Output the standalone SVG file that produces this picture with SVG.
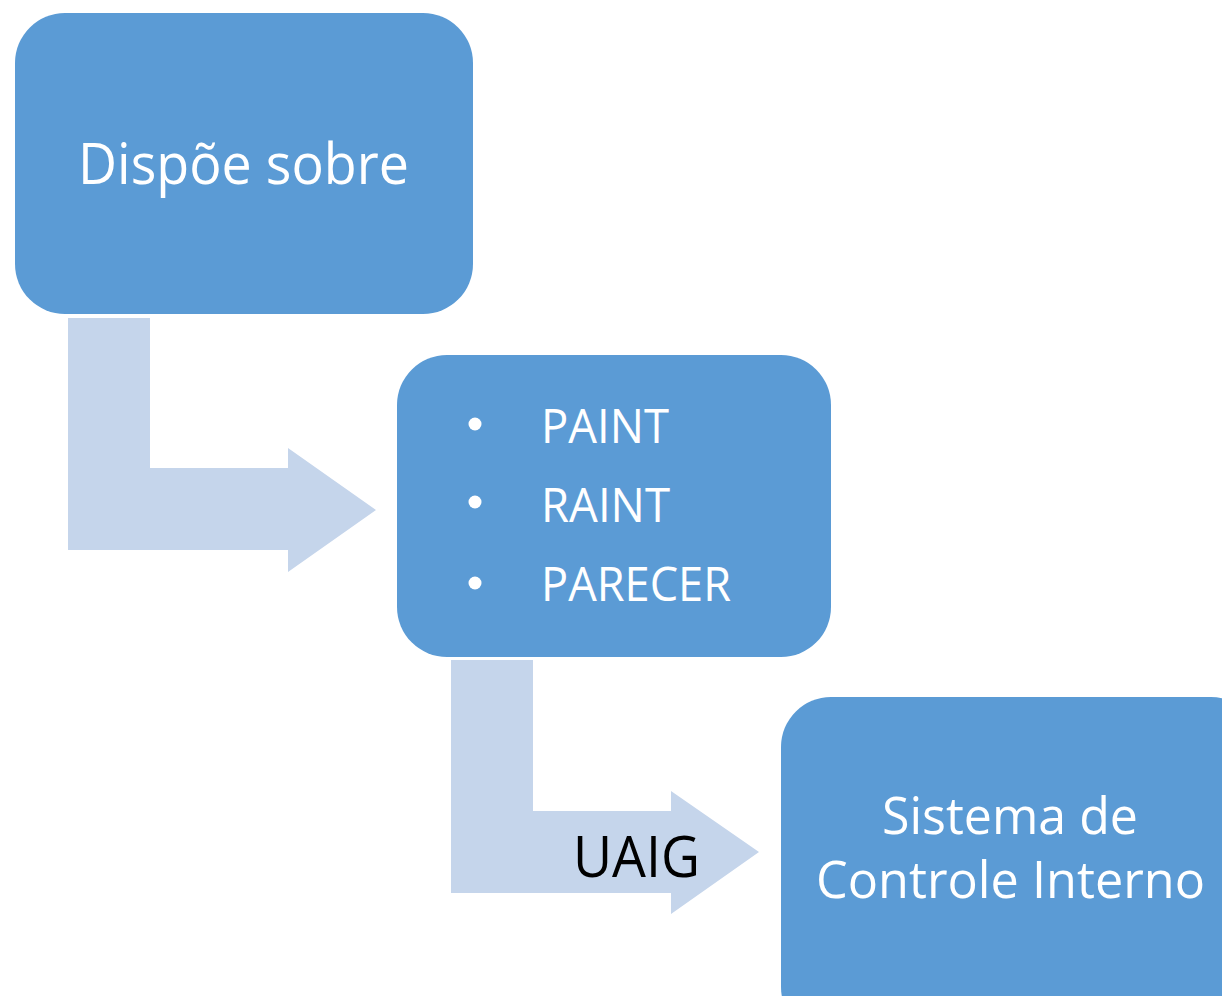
<svg xmlns="http://www.w3.org/2000/svg" width="1222" height="996" viewBox="0 0 1222 996">
<style>
.box{fill:#5B9BD5;}
.arrow{fill:#C5D5EB;}
.t{font-family:"Open Sans","Liberation Sans",sans-serif;fill:#FFFFFF;}
.dot{fill:#FFFFFF;}
.lbl{font-family:"Open Sans","Liberation Sans",sans-serif;fill:#000000;}
</style>
<rect width="1222" height="996" fill="#FFFFFF"/>
<g id="connectors">
<path class="arrow" d="M68,318 H150 V468 H288 V448 L376,510 L288,572 V550 H68 Z"/>
<path class="arrow" d="M451,660 H533 V811 H671 V791 L759,852 L671,914 V893 H451 Z"/>
<text class="lbl" x="573" y="877" font-size="56" textLength="127" lengthAdjust="spacingAndGlyphs">UAIG</text>
</g>
<g id="node1">
<rect class="box" x="15" y="13" width="458" height="301" rx="50" ry="50"/>
<text class="t" x="78" y="184" font-size="56" textLength="331" lengthAdjust="spacingAndGlyphs">Dispõe sobre</text>
</g>
<g id="node2">
<rect class="box" x="397" y="355" width="434" height="302" rx="50" ry="50"/>
<circle class="dot" cx="475" cy="424" r="6.5"/>
<circle class="dot" cx="475" cy="502" r="6.5"/>
<circle class="dot" cx="475" cy="583" r="6.5"/>
<text class="t" x="541" y="443" font-size="48" textLength="128" lengthAdjust="spacingAndGlyphs">PAINT</text>
<text class="t" x="541" y="522" font-size="48" textLength="129" lengthAdjust="spacingAndGlyphs">RAINT</text>
<text class="t" x="541" y="601" font-size="48" textLength="190" lengthAdjust="spacingAndGlyphs">PARECER</text>
</g>
<g id="node3">
<rect class="box" x="781" y="697" width="480" height="340" rx="50" ry="50"/>
<text class="t" x="882" y="834" font-size="52" textLength="256" lengthAdjust="spacingAndGlyphs">Sistema de</text>
<text class="t" x="816" y="898" font-size="52" textLength="389" lengthAdjust="spacingAndGlyphs">Controle Interno</text>
</g>
</svg>
